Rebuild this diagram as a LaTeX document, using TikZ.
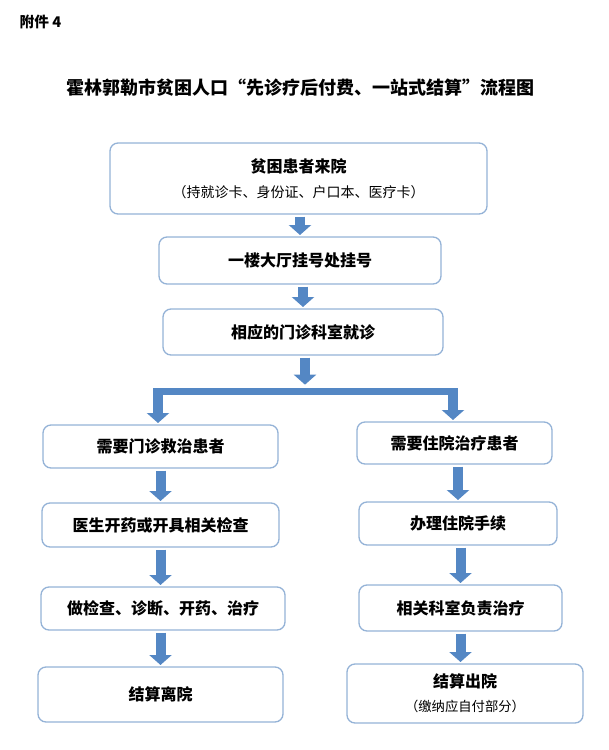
\documentclass[tikz,border=0pt]{standalone}
\usepackage{fontspec}
\setmainfont{Noto Sans CJK SC}
\usetikzlibrary{arrows.meta}
\definecolor{boxline}{RGB}{149,179,215}
\definecolor{flowblue}{RGB}{84,135,196}

\begin{document}
\begin{tikzpicture}[
  x=0.75pt,y=-0.75pt,
  stepbox/.style={rounded corners=6pt,draw=boxline,line width=1pt,fill=white,
                  inner sep=0pt,align=center,font=\bfseries\fontsize{12}{14}\selectfont},
  >={Triangle[width=16.5pt,length=7.5pt]},
  flow/.style={draw=flowblue,line width=7.5pt,->,shorten <=1.5pt,shorten >=1pt},
  splitbar/.style={draw=flowblue,line width=5.25pt}
]
\useasboundingbox (0,0) rectangle (609,750);

% header and title
\node[anchor=west,font=\bfseries\fontsize{11}{12}\selectfont] (hdr) at (15,22) {附件 4};
\node[font=\bfseries\fontsize{13.5}{16}\selectfont] (title) at (300,88)
  {霍林郭勒市贫困人口“先诊疗后付费、一站式结算”流程图};

% common steps
\node[stepbox,minimum width=282.75pt,minimum height=53.25pt] (visit) at (298.5,178.5)
  {贫困患者来院\\[5pt]{\mdseries\fontsize{10.5}{12}\selectfont （持就诊卡、身份证、户口本、医疗卡）}};
\node[stepbox,minimum width=211.5pt,minimum height=35.25pt] (reg) at (300,260.5) {一楼大厅挂号处挂号};
\node[stepbox,minimum width=210pt,minimum height=34.5pt] (dept) at (303,332) {相应的门诊科室就诊};

% outpatient branch
\node[stepbox,minimum width=176.25pt,minimum height=32.25pt] (outp) at (160.5,446.5) {需要门诊救治患者};
\node[stepbox,minimum width=177.75pt,minimum height=33pt] (presc) at (160.5,525) {医生开药或开具相关检查};
\node[stepbox,minimum width=183pt,minimum height=32.25pt] (exam) at (163,608.5) {做检查、诊断、开药、治疗};
\node[stepbox,minimum width=183.75pt,minimum height=41.25pt] (leave) at (160.5,694.5) {结算离院};

% inpatient branch
\node[stepbox,minimum width=146.25pt,minimum height=31.5pt] (inp) at (454.5,443) {需要住院治疗患者};
\node[stepbox,minimum width=148.5pt,minimum height=32.25pt] (admit) at (458,523.5) {办理住院手续};
\node[stepbox,minimum width=152.25pt,minimum height=34.5pt] (treat) at (460.5,608) {相关科室负责治疗};
\node[stepbox,minimum width=177pt,minimum height=44.25pt] (disch) at (465,693.5)
  {结算出院\\[4pt]{\mdseries\fontsize{10}{12}\selectfont （缴纳应自付部分）}};

% split bar
\coordinate (brM) at (305,386);
\coordinate (brL) at (158,391.5);
\coordinate (brR) at (453,391.5);

\draw[flow] (visit.south -| reg.north) -- (reg.north);
\draw[flow] (reg.south -| dept.north) -- (dept.north);
\draw[flow] (dept.south -| brM) -- (brM);
\draw[splitbar] ([xshift=-3.75pt]brL) -- ([xshift=3.75pt]brR);
\draw[flow,shorten <=0pt] ([yshift=2.6pt]brL) -- (outp.north -| brL);
\draw[flow,shorten <=0pt] ([yshift=2.6pt]brR) -- (inp.north -| brR);

\draw[flow] (outp.south -| presc.north) -- (presc.north);
\draw[flow] (presc.south -| presc.north) -- (exam.north -| presc.north);
\draw[flow] (exam.south -| leave.north) -- (leave.north);

\draw[flow] (inp.south -| admit.north) -- (admit.north);
\draw[flow] (admit.south -| treat.north) -- (treat.north);
\draw[flow] (treat.south) -- (disch.north -| treat.south);
\end{tikzpicture}
\end{document}
